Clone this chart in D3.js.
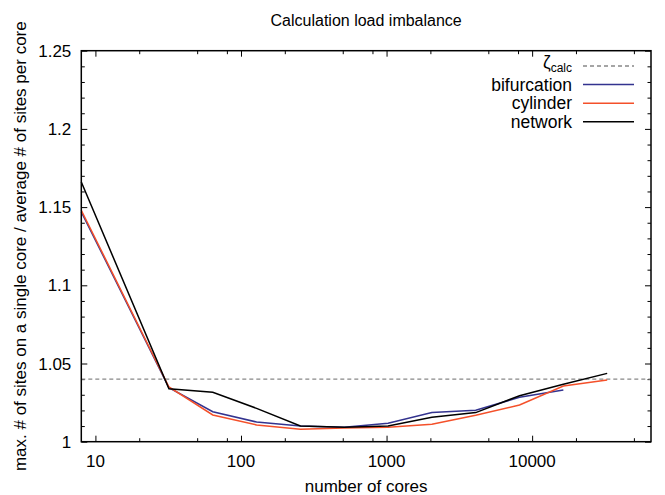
<!DOCTYPE html>
<html>
<head>
<meta charset="utf-8">
<script src="https://cdn.jsdelivr.net/npm/d3@7"></script>
<style>
  body { margin: 0; background: #fff; }
  svg { display: block; font-family: "Liberation Sans", Arial, sans-serif; }
</style>
</head>
<body>
<svg></svg>
<script>
// number of cores (powers of two)
const cores = [8, 32, 64, 128, 256, 512, 1024, 2048, 4096, 8192, 16384, 32768];
const bifurcation = [1.147, 1.0345, 1.0192, 1.0126, 1.0100, 1.0093, 1.0118, 1.0186, 1.0201, 1.0284, 1.0331];
const cylinder = [1.148, 1.0350, 1.0171, 1.0107, 1.0079, 1.0088, 1.0092, 1.0111, 1.0169, 1.0235, 1.0356, 1.0394];
const network = [1.166, 1.0339, 1.0316, 1.0213, 1.0100, 1.0092, 1.0100, 1.0156, 1.0186, 1.0294, 1.0367, 1.0437];
const zetaCalc = 1.04;

const xMajor = [10, 100, 1000, 10000];
const xMinor = [20, 50, 80, 200, 500, 800, 2000, 5000, 8000, 20000, 50000];
const yMajor = [1, 1.05, 1.1, 1.15, 1.2, 1.25];
const yMinor = d3.range(1, 1.2501, 0.01).map(v => +v.toFixed(2)).filter(v => !yMajor.includes(v));

const width = 665;
const height = 495;
const plotLeft = 81.3, plotRight = 651, plotTop = 50.7, plotBottom = 441.7;

const svg = d3.select('svg').attr('width', width).attr('height', height);

const xScale = d3.scaleLog().domain([8, 65536]).range([plotLeft, plotRight]);
const yScale = d3.scaleLinear().domain([1, 1.25]).range([plotBottom, plotTop]);

const series = [
    { name: 'bifurcation', values: bifurcation, color: '#33338f' },
    { name: 'cylinder', values: cylinder, color: '#f4502a' },
    { name: 'network', values: network, color: '#000000' }
];

// ticks, inward and mirrored
const tickAxes = (axisFn, scale, vals, size, pos) => {
    svg.append('g')
    .attr('transform', pos)
    .call(axisFn(scale).tickValues(vals).tickSize(size).tickFormat(''))
    .call(g => g.select('.domain').remove())
    .call(g => g.selectAll('line').attr('stroke', '#000').attr('stroke-width', 1));
}
tickAxes(d3.axisBottom, xScale, xMajor, -6, `translate(0,${plotBottom})`);
tickAxes(d3.axisBottom, xScale, xMinor, -3.5, `translate(0,${plotBottom})`);
tickAxes(d3.axisTop, xScale, xMajor, -6, `translate(0,${plotTop})`);
tickAxes(d3.axisTop, xScale, xMinor, -3.5, `translate(0,${plotTop})`);
tickAxes(d3.axisLeft, yScale, yMajor, -6, `translate(${plotLeft},0)`);
tickAxes(d3.axisLeft, yScale, yMinor, -3.5, `translate(${plotLeft},0)`);
tickAxes(d3.axisRight, yScale, yMajor, -6, `translate(${plotRight},0)`);
tickAxes(d3.axisRight, yScale, yMinor, -3.5, `translate(${plotRight},0)`);

// tick labels
svg.append('g')
.selectAll('text')
.data(xMajor)
.enter()
.append('text')
.attr('x', d => xScale(d))
.attr('y', plotBottom + 25)
.attr('text-anchor', 'middle')
.attr('font-size', 17)
.text(d => d);

svg.append('g')
.selectAll('text')
.data(yMajor)
.enter()
.append('text')
.attr('x', plotLeft - 10)
.attr('y', d => yScale(d) + 6)
.attr('text-anchor', 'end')
.attr('font-size', 17)
.text(d => d3.format('')(d));

// threshold
svg.append('line')
.attr('x1', plotLeft).attr('x2', plotRight)
.attr('y1', yScale(zetaCalc)).attr('y2', yScale(zetaCalc))
.attr('stroke', '#888').attr('stroke-width', 1.3).attr('stroke-dasharray', '4,3');

// lines
const line = d3.line()
.x((d, i) => xScale(cores[i]))
.y(d => yScale(d));

series.forEach(s => {
    svg.append('path')
    .attr('d', line(s.values))
    .attr('fill', 'none')
    .attr('stroke', s.color)
    .attr('stroke-width', 1.5);
});

// frame
svg.append('rect')
.attr('x', plotLeft).attr('y', plotTop)
.attr('width', plotRight - plotLeft).attr('height', plotBottom - plotTop)
.attr('fill', 'none').attr('stroke', '#000').attr('stroke-width', 1.5);

// legend
const legX = 572, legY0 = 66, legStep = 18.6;
const legend = [
    { color: '#888', dash: '4,3' },
    ...series.map(s => ({ name: s.name, color: s.color, dash: null }))
];
legend.forEach((d, i) => {
    const y = legY0 + i * legStep;
    svg.append('line')
    .attr('x1', legX + 11).attr('x2', legX + 62)
    .attr('y1', y).attr('y2', y)
    .attr('stroke', d.color).attr('stroke-width', d.dash ? 1.3 : 1.5)
    .attr('stroke-dasharray', d.dash);
    const t = svg.append('text')
    .attr('x', legX)
    .attr('text-anchor', 'end')
    .attr('font-size', 17.5);
    if (d.name) {
        t.attr('y', y + 6).text(d.name);
    } else {
        t.attr('y', y + 1.5);
        t.append('tspan').text('ζ');
        t.append('tspan').attr('font-size', 12).attr('dy', 4).text('calc');
    }
});

// titles
svg.append('text')
.attr('x', (plotLeft + plotRight) / 2).attr('y', 26)
.attr('text-anchor', 'middle')
.attr('font-size', 16)
.text('Calculation load imbalance');

svg.append('text')
.attr('x', (plotLeft + plotRight) / 2).attr('y', 492)
.attr('text-anchor', 'middle')
.attr('font-size', 17)
.text('number of cores');

svg.append('text')
.attr('transform', `translate(26,${(plotTop + plotBottom) / 2}) rotate(-90)`)
.attr('text-anchor', 'middle')
.attr('font-size', 17)
.text('max. # of sites on a single core / average # of sites per core');
</script>
</body>
</html>
